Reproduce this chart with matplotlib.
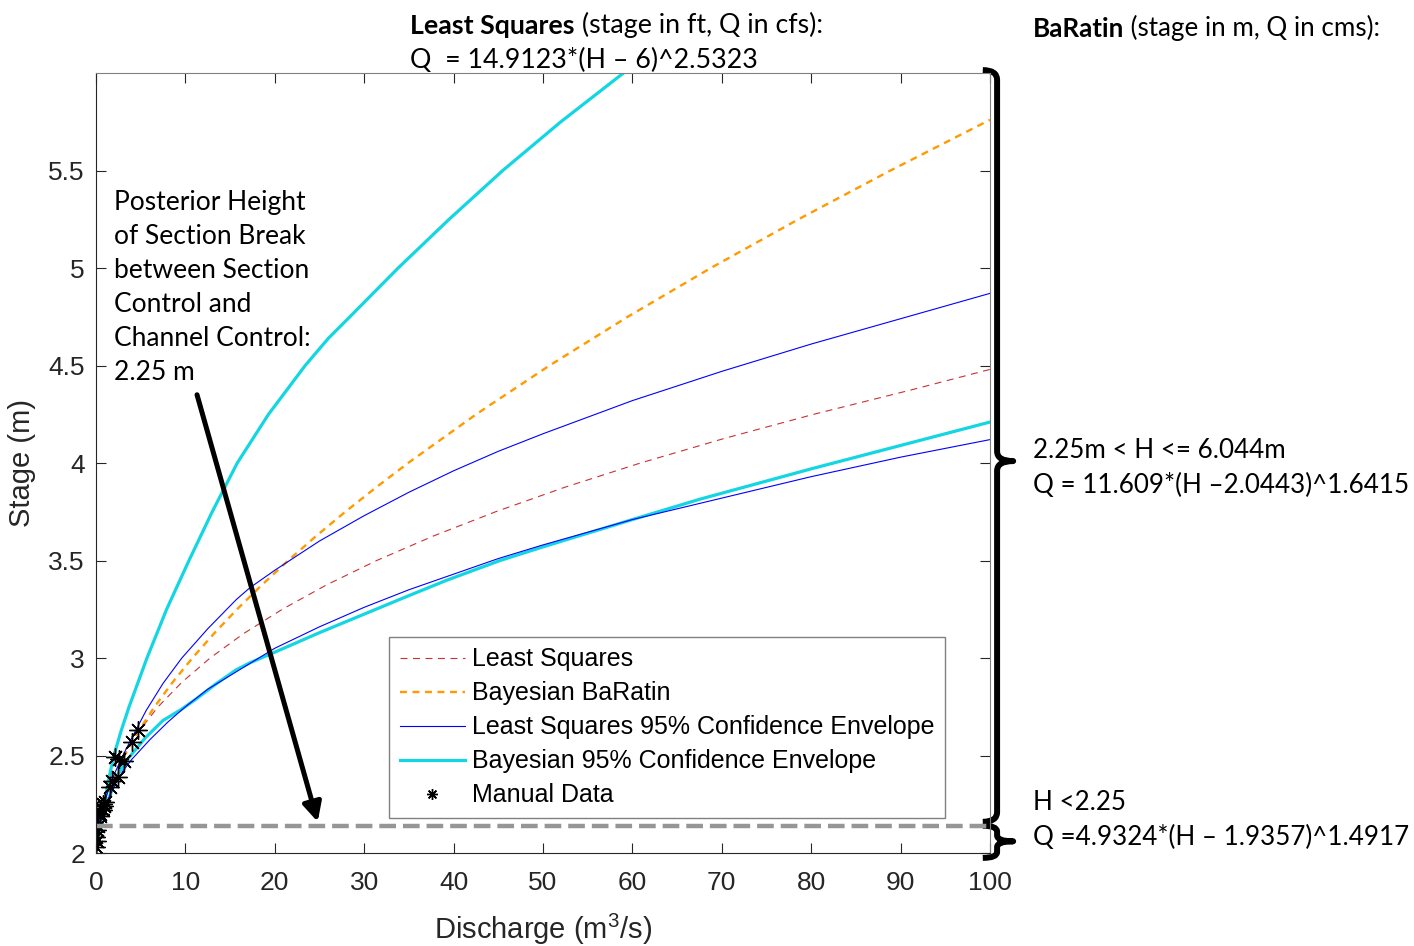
import numpy as np
import matplotlib.pyplot as plt
from matplotlib.path import Path
from matplotlib.patches import PathPatch
from matplotlib.ticker import FormatStrFormatter

plt.rcParams['font.family'] = ['Liberation Sans', 'DejaVu Sans']
plt.rcParams['mathtext.fontset'] = 'custom'
plt.rcParams['mathtext.rm'] = 'Liberation Sans'
plt.rcParams['lines.scale_dashes'] = False

# ---- values: stage (m) and discharge (m3/s)
ls_stage = [2.0, 2.1, 2.2, 2.25, 2.375, 2.5, 2.625, 2.75, 2.875, 3.0, 3.125, 3.25, 3.375,
            3.5, 3.625, 3.75, 3.875, 4.0, 4.125, 4.25, 4.375, 4.48]
ls_q = [0.1, 0.31, 0.7, 0.96, 1.85, 3.12, 4.8, 6.95, 9.59, 12.76, 16.5, 20.84, 25.79,
        31.4, 37.7, 44.7, 52.4, 60.9, 70.2, 80.3, 91.2, 100]

bar_stage = [2.0, 2.1, 2.2, 2.25, 2.375, 2.5, 2.625, 2.75, 2.875, 3.0, 3.125, 3.25, 3.375,
             3.5, 3.625, 3.75, 3.875, 4.0, 4.25, 4.5, 4.75, 5.0, 5.25, 5.5, 5.76]
bar_q = [0.08, 0.33, 0.6, 0.87, 1.89, 3.19, 4.76, 6.55, 8.56, 10.78, 13.19, 15.78, 18.56,
         21.5, 24.61, 27.89, 31.33, 34.91, 42.53, 50.73, 59.48, 68.77, 78.58, 88.87, 100]

ls_up_q = [0.2, 1, 2, 3, 4, 5.6, 7.5, 9.6, 12.5, 15.7, 17.2, 20, 25, 30, 35, 40, 45, 50,
           60, 70, 80, 90, 100]
ls_up_stage = [2.12, 2.27, 2.4, 2.5, 2.59, 2.73, 2.87, 3.0, 3.15, 3.3, 3.36, 3.45, 3.6,
               3.73, 3.85, 3.96, 4.06, 4.15, 4.32, 4.47, 4.61, 4.74, 4.87]

ls_lo_q = [0.3, 1, 2, 3, 4, 6, 8, 10, 12.5, 15, 17.5, 20, 25, 30, 35, 40, 45, 50, 60, 70,
           80, 90, 100]
ls_lo_stage = [2.13, 2.24, 2.34, 2.42, 2.48, 2.58, 2.67, 2.75, 2.84, 2.91, 2.98, 3.05, 3.16,
               3.26, 3.35, 3.43, 3.51, 3.58, 3.71, 3.82, 3.93, 4.03, 4.12]

bay_up_stage = [2.0, 2.1, 2.25, 2.375, 2.5, 2.625, 2.75, 2.875, 3.0, 3.25, 3.5, 3.75, 4.0,
                4.25, 4.5, 4.64, 4.75, 5.0, 5.25, 5.5, 5.75, 6.0]
bay_up_q = [0.0, 0.3, 0.9, 1.4, 2.0, 2.8, 3.7, 4.7, 5.7, 7.9, 10.4, 13.0, 15.8, 19.3,
            23.4, 26.0, 28.4, 33.8, 39.5, 45.5, 52.0, 59.0]

bay_lo_q = [0.1, 0.5, 1.2, 2.4, 3.7, 5.5, 7.5, 9.5, 11.2, 13.5, 15.7, 17.2, 20, 25, 30, 35,
            39.3, 45.2, 50, 60, 67.6, 80, 90, 100]
bay_lo_stage = [2.03, 2.12, 2.25, 2.4, 2.49, 2.59, 2.68, 2.735, 2.79, 2.87, 2.94, 2.975,
                3.03, 3.13, 3.225, 3.32, 3.40, 3.50, 3.57, 3.71, 3.815, 3.97, 4.09, 4.21]

manual_q = [4.7, 4.0, 2.15, 2.6, 3.1, 2.5, 1.8, 1.6, 1.0, 0.9, 0.75, 0.8, 0.6, 0.5, 0.4,
            0.25, 0.1, 0.05, 0.15, 0.03]
manual_stage = [2.63, 2.57, 2.49, 2.48, 2.47, 2.39, 2.37, 2.34, 2.26, 2.24, 2.25, 2.22, 2.23,
                2.2, 2.19, 2.14, 2.12, 2.08, 2.06, 2.03]

break_stage = 2.14

fig = plt.figure(figsize=(14.14, 9.46), dpi=100)
ax = fig.add_axes([0.0679, 0.0983, 0.6322, 0.8245])

l1, = ax.plot(ls_q, ls_stage, color='#c83232', lw=0.8, dashes=(5, 4), label='Least Squares')
l2, = ax.plot(bar_q, bar_stage, color='#ff9a00', lw=1.7, dashes=(5, 4), label='Bayesian BaRatin')
l4, = ax.plot(bay_up_q, bay_up_stage, color='#14d6e2', lw=2.3, label='Bayesian 95% Confidence Envelope')
ax.plot(bay_lo_q, bay_lo_stage, color='#14d6e2', lw=2.3)
l3, = ax.plot(ls_up_q, ls_up_stage, color='#0000ff', lw=0.8, label='Least Squares 95% Confidence Envelope')
ax.plot(ls_lo_q, ls_lo_stage, color='#0000ff', lw=0.8)
l5, = ax.plot(manual_q, manual_stage, ls='none', marker=(8, 2, 0), ms=13, mew=1.0,
              color='k', label='Manual Data')
ax.axhline(break_stage, color='#969696', lw=3.2, dashes=(12, 5))

ax.set_xlim(0, 100)
ax.set_ylim(2, 6)
ax.set_xticks(np.arange(0, 101, 10))
ax.set_yticks(np.arange(2, 5.6, 0.5))
ax.yaxis.set_major_formatter(FormatStrFormatter('%g'))
ax.tick_params(direction='in', top=True, right=True, length=7, width=0.8,
               labelsize=19, colors='#262626', pad=8)
ax.tick_params(axis='x', pad=13)
for s in ['left', 'bottom']:
    ax.spines[s].set_color('#262626')
for s in ['top', 'right']:
    ax.spines[s].set_color('#808080')
ax.set_xlabel('Discharge (m$^3$/s)', fontsize=21, color='#262626', labelpad=12)
ax.set_ylabel('Stage (m)', fontsize=21, color='#262626', labelpad=9)

leg = ax.legend([l1, l2, l3, l4, l5], [h.get_label() for h in [l1, l2, l3, l4, l5]],
                loc='upper left', bbox_to_anchor=(0.328, 0.277), borderaxespad=0,
                fontsize=18, handlelength=2.6, labelspacing=0.4, handletextpad=0.3,
                fancybox=False, framealpha=1, edgecolor='#808080', borderpad=0.42,
                markerscale=0.6)
leg.get_frame().set_linewidth(1.0)

# annotation with arrow
ax.text(2.0, 5.40, 'Posterior Height\nof Section Break\nbetween Section\nControl and\n'
        'Channel Control:\n2.25 m', family='Lato', fontsize=19, va='top', linespacing=1.45)
ax.annotate('', xy=(24.8, 2.16), xytext=(11.3, 4.35),
            arrowprops=dict(arrowstyle='-|>', lw=3.6, color='k', mutation_scale=28,
                            shrinkA=0, shrinkB=0))


# curly braces on the right, in data coordinates outside the axes
def brace(ylo, yhi, ymid, xs=100.8, xh=99.2, xt=102.6, r=0.05):
    verts = [(xh, yhi), (xs, yhi), (xs, yhi - r),
             (xs, ymid + r), (xs, ymid), (xt, ymid),
             (xs, ymid), (xs, ymid - r),
             (xs, ylo + r), (xs, ylo), (xh, ylo)]
    codes = [Path.MOVETO, Path.CURVE3, Path.CURVE3,
             Path.LINETO, Path.CURVE3, Path.CURVE3,
             Path.CURVE3, Path.CURVE3,
             Path.LINETO, Path.CURVE3, Path.CURVE3]
    p = PathPatch(Path(verts, codes), fill=False, lw=4.3, ec='k', clip_on=False,
                  capstyle='butt', joinstyle='round')
    ax.add_patch(p)


brace(2.16, 6.015, 4.01)
brace(1.975, 2.14, 2.06, r=0.03)

tf = dict(family='Lato', fontsize=19.3, color='k')
t1 = fig.text(0.29, 0.960, 'Least Squares', fontweight='bold', va='bottom', **tf)
ax.annotate(' (stage in ft, Q in cfs):', xy=(1, 0), xycoords=t1, va='bottom',
            annotation_clip=False, **tf)
fig.text(0.29, 0.923, 'Q  = 14.9123*(H \u2013 6)^2.5323', va='bottom', **tf)

tr = dict(family='Lato', fontsize=18.7, color='k')
t2 = fig.text(0.7306, 0.957, 'BaRatin', fontweight='bold', va='bottom', **tr)
ax.annotate(' (stage in m, Q in cms):', xy=(1, 0), xycoords=t2, va='bottom',
            annotation_clip=False, **tr)
fig.text(0.7306, 0.511, '2.25m < H <= 6.044m', va='bottom', **tr)
fig.text(0.7306, 0.474, 'Q = 11.609*(H \u20132.0443)^1.6415', va='bottom', **tr)
fig.text(0.7306, 0.138, 'H <2.25', va='bottom', **tr)
fig.text(0.7306, 0.101, 'Q =4.9324*(H \u2013 1.9357)^1.4917', va='bottom', **tr)

fig.savefig('out.png', dpi=100)
